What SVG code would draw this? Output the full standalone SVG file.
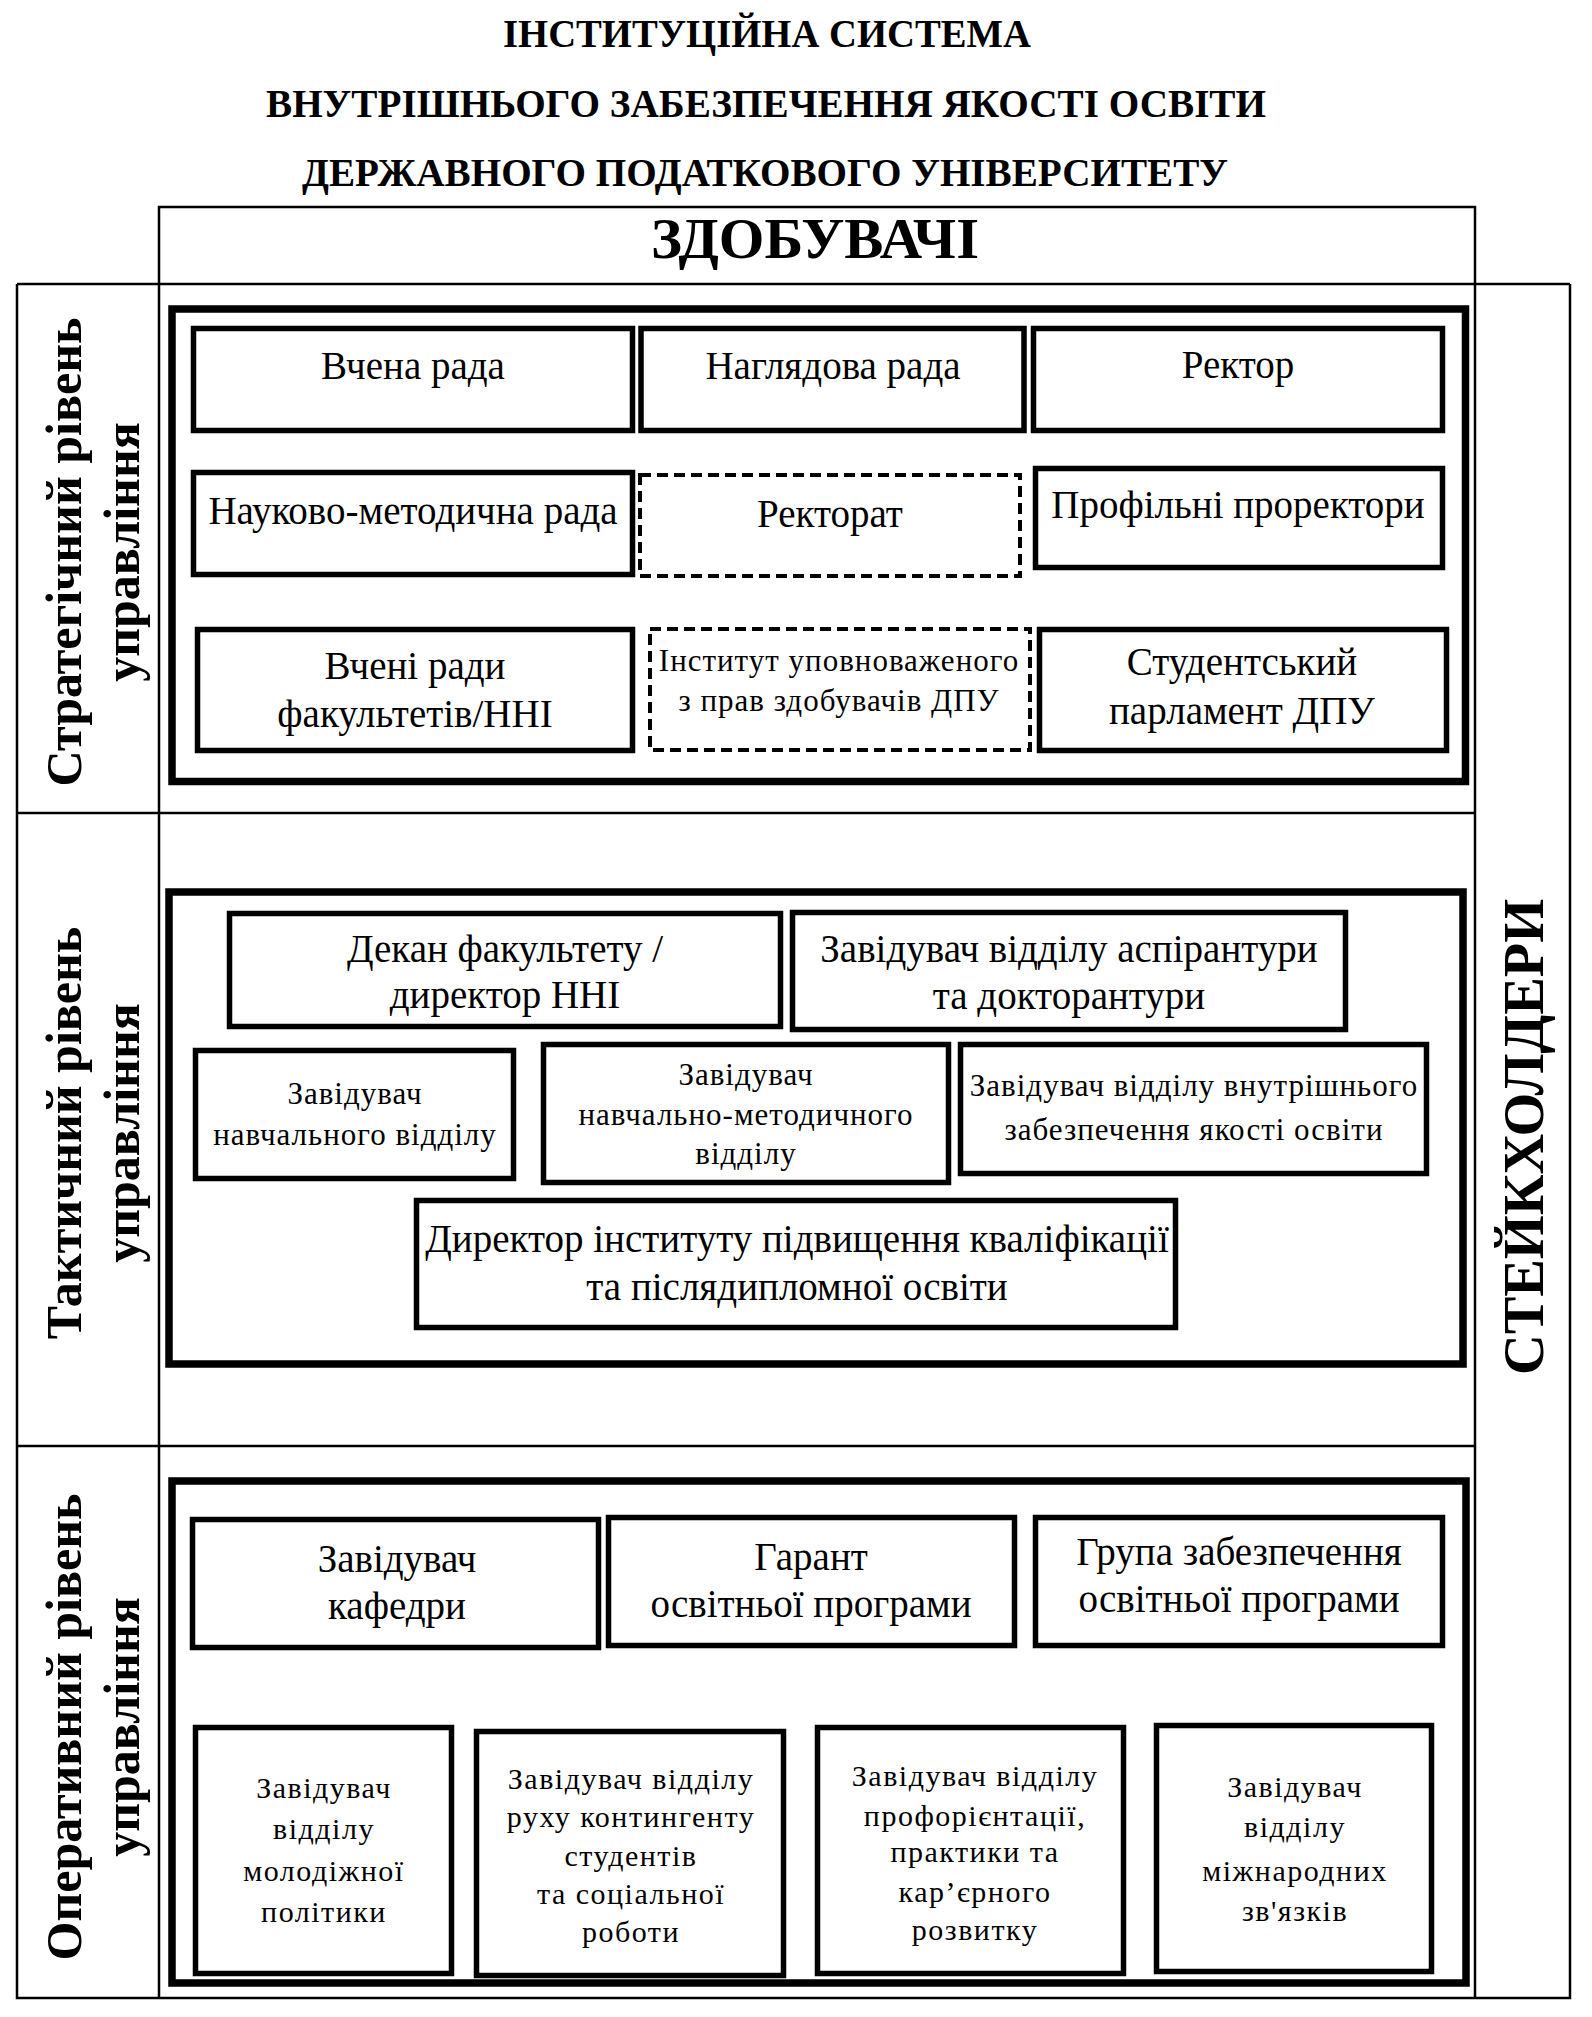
<svg xmlns="http://www.w3.org/2000/svg" width="1592" height="2017" viewBox="0 0 1592 2017">
<style>
text{font-family:"Liberation Serif","Times New Roman",serif;fill:#000;text-anchor:middle}
.title{font-size:39px;font-weight:bold}
.head{font-size:58px;font-weight:bold}
.lvl{font-size:50px;font-weight:bold}
.big{font-size:39px}
.sm{font-size:31px;letter-spacing:1px}
.xs{font-size:30px;letter-spacing:1.5px}
.grid{fill:none;stroke:#000;stroke-width:2.5}
.outer{fill:none;stroke:#000;stroke-width:7.5}
.box{fill:#fff;stroke:#000;stroke-width:5.5}
.dash{fill:none;stroke:#000;stroke-width:4;stroke-dasharray:11 6}
</style>
<rect width="1592" height="2017" fill="#fff"/>
<g id="title">
<text class="title" x="767" y="47" textLength="528" lengthAdjust="spacingAndGlyphs">ІНСТИТУЦІЙНА СИСТЕМА</text>
<text class="title" x="766" y="117" textLength="1000" lengthAdjust="spacingAndGlyphs">ВНУТРІШНЬОГО ЗАБЕЗПЕЧЕННЯ ЯКОСТІ  ОСВІТИ</text>
<text class="title" x="765" y="186" textLength="926" lengthAdjust="spacingAndGlyphs">ДЕРЖАВНОГО ПОДАТКОВОГО УНІВЕРСИТЕТУ</text>
</g>
<g id="frame">
<path class="grid" d="M159 1998V207H1475V1998M17 284H1570M17 284V1998H1570V284M17 813H1475M17 1446H1475"/>
</g>
<g id="zdobuvachi"><text class="head" x="815" y="258" textLength="328" lengthAdjust="spacingAndGlyphs">ЗДОБУВАЧІ</text></g>
<g id="stakeholders"><text class="head" transform="translate(1543,1137) rotate(-90)" textLength="476" lengthAdjust="spacingAndGlyphs">СТЕЙКХОЛДЕРИ</text></g>
<g id="level-strategic">
<text class="lvl" transform="translate(81,552) rotate(-90)">Стратегічний рівень</text>
<text class="lvl" transform="translate(139,552) rotate(-90)">управління</text>
<rect class="outer" x="172" y="309" width="1293.5" height="472.5"/>
</g>
<g id="level-tactical">
<text class="lvl" transform="translate(81,1133) rotate(-90)">Тактичний рівень</text>
<text class="lvl" transform="translate(139,1133) rotate(-90)">управління</text>
<rect class="outer" x="169" y="892" width="1294" height="472"/>
</g>
<g id="level-operational">
<text class="lvl" transform="translate(81,1727) rotate(-90)">Оперативний рівень</text>
<text class="lvl" transform="translate(139,1727) rotate(-90)">управління</text>
<rect class="outer" x="172" y="1481" width="1294" height="502"/>
</g>
<g id="connectors"></g>
<g id="vchena-rada"><rect class="box" x="193.5" y="328.5" width="439" height="102"/><text class="big" x="413" y="379">Вчена рада</text></g>
<g id="nahliadova-rada"><rect class="box" x="641" y="328.5" width="383" height="102"/><text class="big" x="833" y="379">Наглядова рада</text></g>
<g id="rektor"><rect class="box" x="1033.5" y="328.5" width="409" height="102"/><text class="big" x="1238" y="378">Ректор</text></g>
<g id="nmr"><rect class="box" x="193.5" y="472.5" width="439" height="102"/><text class="big" x="413" y="524">Науково-методична рада</text></g>
<g id="rektorat"><rect class="dash" x="640" y="475" width="380" height="101"/><text class="big" x="830" y="527">Ректорат</text></g>
<g id="prorektory"><rect class="box" x="1035.5" y="468.5" width="407" height="99"/><text class="big" x="1238" y="518">Профільні проректори</text></g>
<g id="vcheni-rady"><rect class="box" x="197.5" y="629.5" width="435" height="121"/><text class="big" x="415" y="679">Вчені ради</text><text class="big" x="415" y="727">факультетів/ННІ</text></g>
<g id="upovnovazhenyi"><rect class="dash" x="650" y="629" width="380" height="121"/><text class="sm" x="839" y="671">Інститут уповноваженого</text><text class="sm" x="839" y="711">з прав здобувачів ДПУ</text></g>
<g id="parlament"><rect class="box" x="1039.5" y="629.5" width="407" height="121"/><text class="big" x="1242" y="675">Студентський</text><text class="big" x="1242" y="724">парламент ДПУ</text></g>
<g id="dekan"><rect class="box" x="229.5" y="913.5" width="551" height="113"/><text class="big" x="505" y="962">Декан факультету /</text><text class="big" x="505" y="1008">директор ННІ</text></g>
<g id="aspirantura"><rect class="box" x="792.5" y="912.5" width="553" height="117"/><text class="big" x="1069" y="962">Завідувач відділу аспірантури</text><text class="big" x="1069" y="1009">та докторантури</text></g>
<g id="navchalnyi"><rect class="box" x="195.5" y="1050.5" width="318" height="128"/><text class="sm" x="355" y="1104">Завідувач</text><text class="sm" x="355" y="1145">навчального відділу</text></g>
<g id="nmv"><rect class="box" x="543.5" y="1044.5" width="405" height="138"/><text class="sm" x="746" y="1085">Завідувач</text><text class="sm" x="746" y="1125">навчально-методичного</text><text class="sm" x="746" y="1164">відділу</text></g>
<g id="yakist"><rect class="box" x="960.5" y="1044.5" width="466" height="129"/><text class="sm" x="1194" y="1096">Завідувач відділу внутрішнього</text><text class="sm" x="1194" y="1140">забезпечення якості освіти</text></g>
<g id="dyrektor"><rect class="box" x="416.5" y="1200.5" width="759" height="127"/><text class="big" x="797" y="1252">Директор інституту підвищення кваліфікації</text><text class="big" x="797" y="1300">та післядипломної освіти</text></g>
<g id="kafedra"><rect class="box" x="192.5" y="1519.5" width="406" height="128"/><text class="big" x="397" y="1572">Завідувач</text><text class="big" x="397" y="1619">кафедри</text></g>
<g id="harant"><rect class="box" x="608.5" y="1517.5" width="406" height="128"/><text class="big" x="811" y="1570">Гарант</text><text class="big" x="811" y="1617">освітньої програми</text></g>
<g id="hrupa"><rect class="box" x="1035.5" y="1517.5" width="407" height="128"/><text class="big" x="1239" y="1565">Група забезпечення</text><text class="big" x="1239" y="1612">освітньої програми</text></g>
<g id="molod"><rect class="box" x="195.5" y="1727.5" width="256" height="246"/><text class="xs" x="324" y="1798">Завідувач</text><text class="xs" x="324" y="1839">відділу</text><text class="xs" x="324" y="1881">молодіжної</text><text class="xs" x="324" y="1922">політики</text></g>
<g id="kontynhent"><rect class="box" x="476.5" y="1731.5" width="307" height="244"/><text class="xs" x="631" y="1789">Завідувач відділу</text><text class="xs" x="631" y="1827">руху контингенту</text><text class="xs" x="631" y="1866">студентів</text><text class="xs" x="631" y="1904">та соціальної</text><text class="xs" x="631" y="1942">роботи</text></g>
<g id="proforientatsiia"><rect class="box" x="817.5" y="1727.5" width="306" height="246"/><text class="xs" x="975" y="1786">Завідувач відділу</text><text class="xs" x="975" y="1826">профорієнтації,</text><text class="xs" x="975" y="1862">практики та</text><text class="xs" x="975" y="1902">кар’єрного</text><text class="xs" x="975" y="1940">розвитку</text></g>
<g id="mizhnarodni"><rect class="box" x="1156.5" y="1725.5" width="275" height="246"/><text class="xs" x="1295" y="1797">Завідувач</text><text class="xs" x="1295" y="1837">відділу</text><text class="xs" x="1295" y="1881">міжнародних</text><text class="xs" x="1295" y="1921">зв'язків</text></g>
</svg>
